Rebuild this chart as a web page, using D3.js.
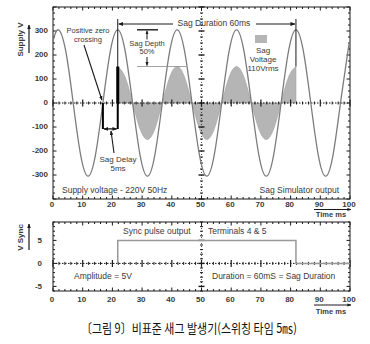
<!DOCTYPE html>
<html>
<head>
<meta charset="utf-8">
<script src="https://cdn.jsdelivr.net/npm/d3@7"></script>
<style>
  html, body { margin: 0; padding: 0; background: #fff; }
  svg { display: block; }
  text { font-family: "Liberation Sans", Arial, sans-serif; fill: #3a3a3a; }
</style>
</head>
<body>
<svg id="chart" width="370" height="344"></svg>
<script>
// Supply waveform samples (ms, volts): 220V 50Hz, positive zero crossing near 16.8 ms
const supplyTime = [0, 1.8, 4.3, 6.8, 9.3, 11.8, 14.3, 16.8, 19.3, 21.8, 24.3, 26.8, 29.3, 31.8, 34.3, 36.8,
  39.3, 41.8, 44.3, 46.8, 49.3, 51.8, 54.3, 56.8, 59.3, 61.8, 64.3, 66.8, 69.3, 71.8, 74.3, 76.8,
  79.3, 81.8, 84.3, 86.8, 89.3, 91.8, 94.3, 96.8, 99.3, 100];
const supplyVolts = [257, 305, 216, 0, -216, -305, -216, 0, 216, 305, 216, 0, -216, -305, -216, 0,
  216, 305, 216, 0, -216, -305, -216, 0, 216, 305, 216, 0, -216, -305, -216, 0,
  216, 305, 216, 0, -216, -305, -216, 0, 216, 257];

// Sag simulator output during the 60 ms sag (50% depth)
const sagTime = [21.8, 24.3, 26.8, 29.3, 31.8, 34.3, 36.8, 39.3, 41.8, 44.3, 46.8, 49.3, 51.8, 54.3,
  56.8, 59.3, 61.8, 64.3, 66.8, 69.3, 71.8, 74.3, 76.8, 79.3, 81.8];
const sagVolts = [152, 108, 0, -108, -152, -108, 0, 108, 152, 108, 0, -108, -152, -108,
  0, 108, 152, 108, 0, -108, -152, -108, 0, 108, 152];

// Sync pulse (ms, volts)
const syncTime = [21.8, 21.8, 81.8, 81.8, 100];
const syncVolts = [0, 5, 5, 0, 0];

// Key instants (ms)
const zeroCrossing = 16.8;
const sagStart = 21.8;
const sagEnd = 81.8;
const sagLevel = 152;
const supplyPeak = 305;

// Axis ticks
const timeTicks = [0, 10, 20, 30, 40, 50, 60, 70, 80, 90, 100];
const voltTicks = [300, 200, 100, 0, -100, -200, -300];
const syncTicks = [5, 0, -5];

const svg = d3.select("#chart");
const X0 = 53, X1 = 350;
const x = d3.scaleLinear().domain([0, 100]).range([X0, X1]);
const yV = d3.scaleLinear().domain([-400, 400]).range([199, 7]);
const yS = d3.scaleLinear().domain([-6, 9]).range([291, 222]);

const ink = "#1a1a1a";

// Arrowhead markers
const defs = svg.append("defs");
function marker(id, size) {
  defs.append("marker").attr("id", id)
    .attr("viewBox", "0 0 10 10").attr("refX", 9).attr("refY", 5)
    .attr("markerWidth", size).attr("markerHeight", size).attr("orient", "auto-start-reverse")
    .append("path").attr("d", "M0,1 L10,5 L0,9 Z").attr("fill", ink);
}
marker("arr", 5);
marker("arrS", 4);

// Graticule frame: border with inward ticks plus dotted centre axes
function graticule(y, yMinor, yMajor, yMin, yMax) {
  const g = svg.append("g");
  const [top, bottom] = [y.range()[1], y.range()[0]];
  g.append("rect").attr("x", X0).attr("y", top).attr("width", X1 - X0).attr("height", bottom - top)
    .attr("fill", "none").attr("stroke", ink).attr("stroke-width", 1);
  d3.range(0, 100.01, 2).forEach(t => {
    const len = t % 10 === 0 ? 3.5 : 2;
    g.append("line").attr("x1", x(t)).attr("x2", x(t)).attr("y1", top).attr("y2", top + len).attr("stroke", ink);
    g.append("line").attr("x1", x(t)).attr("x2", x(t)).attr("y1", bottom).attr("y2", bottom - len).attr("stroke", ink);
    const c = t % 10 === 0 ? 3.5 : 1.5;
    g.append("line").attr("x1", x(t)).attr("x2", x(t)).attr("y1", y(0) - c).attr("y2", y(0) + c)
      .attr("stroke", ink).attr("stroke-width", t % 10 === 0 ? 1.2 : 1);
  });
  d3.range(yMin, yMax + 0.001, yMinor).forEach(v => {
    const major = Math.abs(v % yMajor) < 1e-6;
    const len = major ? 3.5 : 2;
    g.append("line").attr("x1", X0).attr("x2", X0 + len).attr("y1", y(v)).attr("y2", y(v)).attr("stroke", ink);
    g.append("line").attr("x1", X1).attr("x2", X1 - len).attr("y1", y(v)).attr("y2", y(v)).attr("stroke", ink);
    const c = major ? 3 : 1.5;
    g.append("line").attr("x1", x(50) - c).attr("x2", x(50) + c).attr("y1", y(v)).attr("y2", y(v))
      .attr("stroke", ink).attr("stroke-width", major ? 1.4 : 1);
  });
  g.append("line").attr("x1", X0).attr("x2", X1).attr("y1", y(0)).attr("y2", y(0))
    .attr("stroke", ink).attr("stroke-dasharray", "1.5,1.5");
  g.append("line").attr("x1", x(50)).attr("x2", x(50)).attr("y1", top).attr("y2", bottom)
    .attr("stroke", ink).attr("stroke-dasharray", "1,2").attr("stroke-width", 0.8);
  return g;
}

function timeLabels(yPos) {
  svg.append("g").selectAll("text").data(timeTicks).join("text")
    .attr("x", d => x(d) - 1).attr("y", yPos).attr("text-anchor", "middle")
    .attr("dominant-baseline", "middle").attr("font-size", 8).attr("font-weight", "bold")
    .text(d => d);
}

function timeTitle(lineY, textY) {
  svg.append("line").attr("x1", 314).attr("x2", 351).attr("y1", lineY).attr("y2", lineY)
    .attr("stroke", ink).attr("stroke-width", 1).attr("marker-end", "url(#arrS)");
  svg.append("text").attr("x", 331).attr("y", textY).attr("text-anchor", "middle")
    .attr("dominant-baseline", "middle").attr("font-size", 7.5).attr("font-weight", "bold").text("Time ms");
}

function yTitle(label, cx, y1, y2) {
  svg.append("text").attr("transform", `translate(${cx},${(y1 + y2) / 2}) rotate(-90)`)
    .attr("text-anchor", "middle").attr("dominant-baseline", "middle")
    .attr("font-size", 8).attr("font-weight", "bold").text(label);
  svg.append("line").attr("x1", cx + 8).attr("x2", cx + 8).attr("y1", y2 + 1).attr("y2", y1 - 2)
    .attr("stroke", ink).attr("stroke-width", 1.2).attr("marker-end", "url(#arrS)");
}

function note(txt, xx, yy, size, anchor) {
  return svg.append("text").attr("x", xx).attr("y", yy).attr("text-anchor", anchor || "middle")
    .attr("dominant-baseline", "middle").attr("font-size", size).text(txt);
}

// ---------- Top panel: supply and sag output ----------
const sagArea = d3.area().x((d, i) => x(sagTime[i])).y0(yV(0)).y1(d => yV(d)).curve(d3.curveNatural);
svg.append("path").attr("d", sagArea(sagVolts))
  .attr("fill", "#b5b5b5").attr("stroke", "#a2a2a2").attr("stroke-width", 0.6);

graticule(yV, 25, 100, -400, 400);

const supplyLine = d3.line().x((d, i) => x(supplyTime[i])).y(d => yV(d)).curve(d3.curveNatural);
svg.append("path").attr("d", supplyLine(supplyVolts))
  .attr("fill", "none").attr("stroke", "#7c7c7c").attr("stroke-width", 1.3);

svg.append("g").selectAll("text").data(voltTicks).join("text")
  .attr("x", 48).attr("y", d => yV(d)).attr("text-anchor", "end")
  .attr("dominant-baseline", "middle").attr("font-size", 8).attr("font-weight", "bold")
  .text(d => d);
timeLabels(205);
timeTitle(209.5, 215);
yTitle("Supply V", 21, 27, 52);

// Sag duration marker lines and arrows
svg.append("line").attr("x1", x(sagStart)).attr("x2", x(sagStart)).attr("y1", 19).attr("y2", yV(0))
  .attr("stroke", ink).attr("stroke-width", 1);
svg.append("line").attr("x1", x(sagEnd)).attr("x2", x(sagEnd)).attr("y1", 19).attr("y2", yV(sagLevel))
  .attr("stroke", ink).attr("stroke-width", 1);
svg.append("line").attr("x1", x(sagStart)).attr("x2", x(sagStart)).attr("y1", yV(0)).attr("y2", yV(sagLevel))
  .attr("stroke", "#000").attr("stroke-width", 3);
note("Sag Duration 60ms", 214, 24, 8.5);
svg.append("line").attr("x1", 173).attr("x2", x(sagStart) + 1).attr("y1", 24).attr("y2", 24)
  .attr("stroke", ink).attr("marker-end", "url(#arr)");
svg.append("line").attr("x1", 256).attr("x2", x(sagEnd) - 1).attr("y1", 24).attr("y2", 24)
  .attr("stroke", ink).attr("marker-end", "url(#arr)");

// Sag depth annotation
svg.append("line").attr("x1", 137).attr("x2", 158).attr("y1", yV(supplyPeak)).attr("y2", yV(supplyPeak))
  .attr("stroke", ink).attr("stroke-width", 1.4);
svg.append("line").attr("x1", 137).attr("x2", 186).attr("y1", yV(sagLevel)).attr("y2", yV(sagLevel))
  .attr("stroke", "#8a8a8a").attr("stroke-width", 0.8);
svg.append("line").attr("x1", 147).attr("x2", 147).attr("y1", 39.5).attr("y2", yV(supplyPeak) + 1)
  .attr("stroke", ink).attr("marker-end", "url(#arrS)");
svg.append("line").attr("x1", 147).attr("x2", 147).attr("y1", 57).attr("y2", yV(sagLevel) - 1)
  .attr("stroke", ink).attr("marker-end", "url(#arrS)");
note("Sag Depth", 147, 44, 7.5);
note("50%", 147, 52.5, 7.5);

// Positive zero crossing annotation
note("Positive zero", 88, 31.5, 7.5);
note("crossing", 88, 40, 7.5);
svg.append("line").attr("x1", 84).attr("y1", 45).attr("x2", x(zeroCrossing) - 1).attr("y2", yV(0) - 3)
  .attr("stroke", ink).attr("stroke-width", 1.1).attr("marker-end", "url(#arrS)");

// Sag delay bracket
svg.append("path")
  .attr("d", `M${x(zeroCrossing)},${yV(0)} V${yV(-108)} M${x(sagStart)},${yV(-108)} V${yV(0)}`)
  .attr("fill", "none").attr("stroke", "#000").attr("stroke-width", 2);
svg.append("line").attr("x1", x(zeroCrossing) + 1).attr("x2", x(sagStart) - 1)
  .attr("y1", yV(-108)).attr("y2", yV(-108))
  .attr("stroke", "#000").attr("stroke-width", 1.2)
  .attr("marker-start", "url(#arrS)").attr("marker-end", "url(#arrS)");
svg.append("line").attr("x1", 114).attr("y1", 153).attr("x2", 111).attr("y2", yV(-108) + 2)
  .attr("stroke", ink).attr("stroke-width", 1.1).attr("marker-end", "url(#arrS)");
note("Sag Delay", 118, 159.5, 8);
note("5ms", 118, 168.5, 8);

// Sag voltage key
svg.append("rect").attr("x", 255).attr("y", 35).attr("width", 12).attr("height", 8).attr("fill", "#b5b5b5");
note("Sag", 263, 50.5, 8);
note("Voltage", 263, 59.5, 8);
note("110Vrms", 263, 68.5, 8);

note("Supply voltage - 220V 50Hz", 62, 191, 8.5, "start");
note("Sag Simulator output", 339, 191, 8.5, "end");

// ---------- Bottom panel: sync pulse ----------
graticule(yS, 1, 5, -6, 9);
const syncLine = d3.line().x((d, i) => x(syncTime[i])).y(d => yS(d));
svg.append("path").attr("d", syncLine(syncVolts))
  .attr("fill", "none").attr("stroke", "#999").attr("stroke-width", 1.5);

svg.append("g").selectAll("text").data(syncTicks).join("text")
  .attr("x", 42).attr("y", d => yS(d)).attr("text-anchor", "end")
  .attr("dominant-baseline", "middle").attr("font-size", 8).attr("font-weight", "bold")
  .text(d => d);
timeLabels(300);
timeTitle(305, 312);
yTitle("V Sync", 21, 226, 249);

note("Sync pulse output", 123, 232, 8.5, "start");
note("Terminals 4 & 5", 208, 232, 8.5, "start");
note("Amplitude = 5V", 74, 277, 8.5, "start");
note("Duration = 60mS = Sag Duration", 212, 277, 8.5, "start");

// Caption
svg.append("text").attr("x", 81).attr("y", 329).attr("dominant-baseline", "middle")
  .attr("font-size", 13).attr("textLength", 216).attr("lengthAdjust", "spacingAndGlyphs")
  .style("font-family", "'Noto Sans CJK KR', 'Noto Sans', sans-serif").style("fill", "#111")
  .text("〔그림 9〕비표준 새그 발생기(스위칭 타임 5㎳)");
</script>
</body>
</html>
